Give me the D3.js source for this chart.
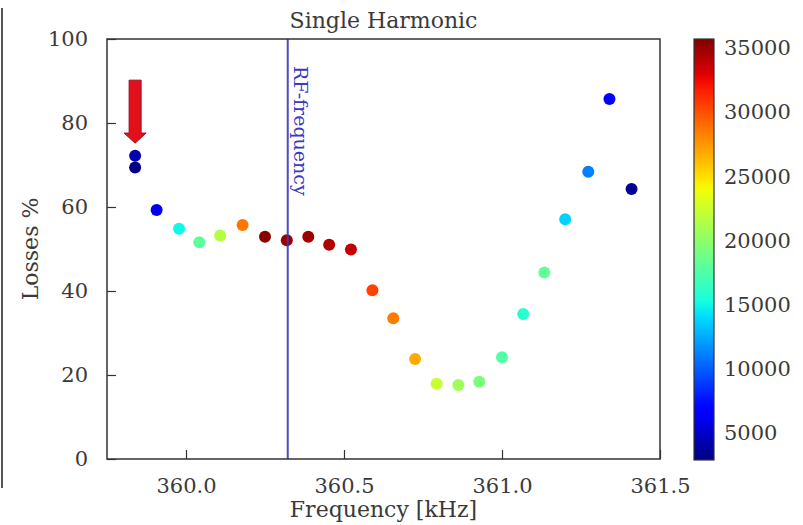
<!DOCTYPE html>
<html><head><meta charset="utf-8">
<script src="https://cdn.jsdelivr.net/npm/d3@7"></script>
<style>
html,body{margin:0;padding:0;background:#fff;}
text{font-family:"DejaVu Serif",serif;fill:#3a3a3a;}
</style></head>
<body><svg id="chart" width="803" height="525"></svg>
<script>
// ---- data ----
const frequency = [359.839, 359.839, 359.907, 359.978, 360.042, 360.108, 360.179, 360.250, 360.319, 360.387, 360.453, 360.522, 360.590, 360.656, 360.725, 360.793, 360.862, 360.928, 361.000, 361.067, 361.134, 361.200, 361.273, 361.340, 361.410];
const losses    = [72.2, 69.4, 59.3, 54.8, 51.6, 53.2, 55.7, 52.9, 52.1, 52.9, 51.0, 49.9, 40.2, 33.5, 23.8, 17.9, 17.6, 18.4, 24.2, 34.5, 44.4, 57.1, 68.4, 85.7, 64.3];
const colourValue = [4300, 3100, 6000, 15000, 18000, 21600, 28600, 35500, 35000, 34800, 34300, 33800, 30500, 28500, 26800, 22300, 20600, 19300, 17700, 16000, 18300, 13800, 11100, 6500, 3500];
const xTicks = [360.0, 360.5, 361.0, 361.5];
const yTicks = [0, 20, 40, 60, 80, 100];
const cTicks = [5000, 10000, 15000, 20000, 25000, 30000, 35000];
const rfFrequency = 360.322;
const arrowAt = {freq: 359.839, top: 90.2, headStart: 77.6, tip: 75.2};
const title = "Single Harmonic";
const xLabel = "Frequency [kHz]";
const yLabel = "Losses %";

// ---- layout ----
const L = 107, R = 660, T = 39, B = 459;
const cbX = 694, cbW = 20, cbT = 39, cbB = 460;
const svg = d3.select("#chart");

const x = d3.scaleLinear().domain([359.75, 361.5]).range([L, R]);
const y = d3.scaleLinear().domain([0, 100]).range([B, T]);
const cScale = d3.scaleLinear().domain([2900, 35700]).range([cbB, cbT]);

// jet colormap
const jr = d3.scaleLinear().domain([0, 0.35, 0.66, 0.89, 1]).range([0, 0, 1, 1, 0.5]).clamp(true);
const jg = d3.scaleLinear().domain([0, 0.125, 0.375, 0.64, 0.91, 1]).range([0, 0, 1, 1, 0, 0]).clamp(true);
const jb = d3.scaleLinear().domain([0, 0.11, 0.34, 0.65, 1]).range([0.5, 1, 1, 0, 0]).clamp(true);
const cNorm = d3.scaleLinear().domain(cScale.domain()).range([0, 1]).clamp(true);
function jet(v){ const t = cNorm(v); return d3.rgb(jr(t)*255, jg(t)*255, jb(t)*255).toString(); }

// left cropped border line artifact
svg.append("line").attr("x1", 2).attr("x2", 2).attr("y1", 8).attr("y2", 488)
  .attr("stroke", "#555").attr("stroke-width", 2);

// points
svg.append("g").selectAll("circle").data(frequency.map((f, i) => ({f, l: losses[i], c: colourValue[i]})))
  .join("circle")
  .attr("cx", d => x(d.f)).attr("cy", d => y(d.l)).attr("r", 6)
  .attr("fill", d => jet(d.c));

// RF line
svg.append("line").attr("x1", x(rfFrequency)).attr("x2", x(rfFrequency)).attr("y1", T).attr("y2", B)
  .attr("stroke", "#3a3ab8").attr("stroke-width", 2).attr("opacity", 0.9);
svg.append("text").attr("transform", `translate(${x(rfFrequency) + 6},${T + 27}) rotate(90)`)
  .attr("font-size", 19).style("fill", "#3a3ac0").text("RF-frequency");

// arrow
const ax = x(arrowAt.freq);
const sw = 6, hw = 11;
svg.append("path")
  .attr("d", `M${ax - sw},${y(arrowAt.top)} L${ax + sw},${y(arrowAt.top)} L${ax + sw},${y(arrowAt.headStart)} L${ax + hw},${y(arrowAt.headStart)} L${ax},${y(arrowAt.tip)} L${ax - hw},${y(arrowAt.headStart)} L${ax - sw},${y(arrowAt.headStart)} Z`)
  .attr("fill", "#e3101c").attr("stroke", "#9a1020").attr("stroke-width", 1);

// axes frame
svg.append("rect").attr("x", L).attr("y", T).attr("width", R - L).attr("height", B - T)
  .attr("fill", "none").attr("stroke", "#333").attr("stroke-width", 1.5);

// x axis (ticks inside)
const xAxis = svg.append("g").attr("transform", `translate(0,${B})`)
  .call(d3.axisBottom(x).tickValues(xTicks).tickFormat(d3.format(".1f")).tickSize(-9).tickPadding(19));
xAxis.select(".domain").remove();
xAxis.selectAll("line").attr("stroke", "#333").attr("stroke-width", 1.2);
xAxis.selectAll("text").attr("font-size", 21).attr("font-family", "DejaVu Serif").attr("fill", "#3a3a3a");

const yAxis = svg.append("g").attr("transform", `translate(${L},0)`)
  .call(d3.axisLeft(y).tickValues(yTicks).tickFormat(d3.format("d")).tickSize(-9).tickPadding(19));
yAxis.select(".domain").remove();
yAxis.selectAll("line").attr("stroke", "#333").attr("stroke-width", 1.2);
yAxis.selectAll("text").attr("font-size", 21).attr("font-family", "DejaVu Serif").attr("fill", "#3a3a3a");

// colorbar
const defs = svg.append("defs");
const grad = defs.append("linearGradient").attr("id", "jetgrad").attr("x1", 0).attr("y1", 1).attr("x2", 0).attr("y2", 0);
d3.range(0, 1.0001, 0.02).forEach(t => {
  const v = cNorm.invert(t);
  grad.append("stop").attr("offset", t).attr("stop-color", jet(v));
});
svg.append("rect").attr("x", cbX).attr("y", cbT).attr("width", cbW).attr("height", cbB - cbT)
  .attr("fill", "url(#jetgrad)").attr("stroke", "#333").attr("stroke-width", 1.2);
const cAxis = svg.append("g").attr("transform", `translate(${cbX + cbW},0)`)
  .call(d3.axisRight(cScale).tickValues(cTicks).tickFormat(d3.format("d")).tickSize(0).tickPadding(10));
cAxis.select(".domain").remove();
cAxis.selectAll("text").attr("font-size", 21).attr("font-family", "DejaVu Serif").attr("fill", "#3a3a3a");

// labels
svg.append("text").attr("x", (L + R) / 2).attr("y", 28).attr("text-anchor", "middle")
  .attr("font-size", 22).text(title);
svg.append("text").attr("x", (L + R) / 2).attr("y", 517).attr("text-anchor", "middle")
  .attr("font-size", 22).text(xLabel);
svg.append("text").attr("transform", `translate(38,${(T + B) / 2}) rotate(-90)`).attr("text-anchor", "middle")
  .attr("font-size", 22).text(yLabel);
</script></body></html>
